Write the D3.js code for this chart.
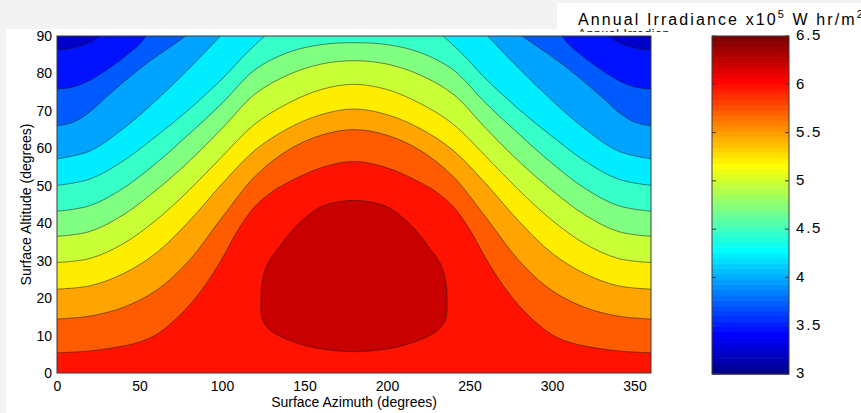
<!DOCTYPE html>
<html>
<head>
<meta charset="utf-8">
<script src="https://cdn.jsdelivr.net/npm/d3@7"></script>
<style>
  html, body { margin: 0; padding: 0; background: #f3f3f3; }
  svg { display: block; }
  text { font-family: "Liberation Sans", Arial, Helvetica, sans-serif; fill: #000; }
</style>
</head>
<body>
<svg id="chart" width="861" height="413"></svg>
<script>
// Iso-irradiance lines: [surface azimuth, surface altitude] pairs in degrees.
// A line that leaves through the top of the plot is split into two parts.
const iso_3_50 = [
  [[0, 86.3], [10, 86.8], [20, 88.3], [26, 90]],
  [[334, 90], [340, 88.3], [350, 86.8], [360, 86.3]]
];
const iso_3_75 = [
  [[0, 75.8], [10, 76.4], [20, 78.2], [30, 80.9], [40, 84.1], [50, 87.8], [54, 90]],
  [[306, 90], [310, 87.8], [320, 84.1], [330, 80.9], [340, 78.2], [350, 76.4], [360, 75.8]]
];
const iso_4_00 = [
  [[0, 66.0], [10, 67.0], [20, 69.8], [30, 73.8], [40, 77.6], [50, 81.2], [60, 84.5], [70, 87.5], [78, 90]],
  [[282, 90], [290, 87.5], [300, 84.5], [310, 81.2], [320, 77.6], [330, 73.8], [340, 69.8], [350, 67.0], [360, 66.0]]
];
const iso_4_25 = [
  [[0, 57.2], [20, 59.3], [40, 65.2], [60, 72.8], [80, 81.3], [99, 90]],
  [[261, 90], [280, 81.3], [300, 72.8], [320, 65.2], [340, 59.3], [360, 57.2]]
];
const iso_4_50 = [
  [[0, 50.1], [20, 51.8], [40, 56.6], [60, 63.2], [80, 70.4], [100, 78.5], [115, 85.5], [126, 90]],
  [[234, 90], [245, 85.5], [260, 78.5], [280, 70.4], [300, 63.2], [320, 56.6], [340, 51.8], [360, 50.1]]
];
const iso_4_75 = [
  [[0, 43.2], [20, 44.7], [40, 49.3], [60, 56.0], [80, 63.8], [100, 72.0], [120, 81.0], [140, 85.6], [160, 87.7], [180, 88.2],
   [200, 87.7], [220, 85.6], [240, 81.0], [260, 72.0], [280, 63.8], [300, 56.0], [320, 49.3], [340, 44.7], [360, 43.2]]
];
const iso_5_00 = [
  [[0, 36.5], [20, 37.8], [40, 42.2], [60, 48.8], [80, 56.5], [100, 65.3], [120, 74.5], [140, 79.6], [160, 82.5], [180, 83.4],
   [200, 82.5], [220, 79.6], [240, 74.5], [260, 65.3], [280, 56.5], [300, 48.8], [320, 42.2], [340, 37.8], [360, 36.5]]
];
const iso_5_25 = [
  [[0, 29.5], [20, 30.6], [40, 34.5], [60, 40.8], [80, 48.8], [100, 57.8], [120, 66.5], [140, 72.0], [160, 75.7], [180, 77.1],
   [200, 75.7], [220, 72.0], [240, 66.5], [260, 57.8], [280, 48.8], [300, 40.8], [320, 34.5], [340, 30.6], [360, 29.5]]
];
const iso_5_50 = [
  [[0, 22.4], [20, 23.3], [40, 26.5], [60, 32.0], [80, 40.5], [100, 50.5], [120, 59.5], [140, 65.3], [160, 69.0], [180, 70.5],
   [200, 69.0], [220, 65.3], [240, 59.5], [260, 50.5], [280, 40.5], [300, 32.0], [320, 26.5], [340, 23.3], [360, 22.4]]
];
const iso_5_75 = [
  [[0, 14.4], [20, 15.2], [40, 17.5], [60, 22.0], [80, 30.0], [100, 41.5], [120, 52.5], [140, 59.5], [160, 63.5], [180, 65.0],
   [200, 63.5], [220, 59.5], [240, 52.5], [260, 41.5], [280, 30.0], [300, 22.0], [320, 17.5], [340, 15.2], [360, 14.4]]
];
const iso_6_00 = [
  [[0, 5.4], [20, 5.9], [40, 7.2], [50, 8.3], [60, 10.2], [70, 13.6], [80, 18.0], [90, 23.6], [100, 30.5], [110, 38.4],
   [120, 44.5], [130, 48.3], [140, 50.9], [160, 54.8], [180, 56.5], [200, 54.8], [220, 50.9], [230, 48.3], [240, 44.5],
   [250, 38.4], [260, 30.5], [270, 23.6], [280, 18.0], [290, 13.6], [300, 10.2], [310, 8.3], [320, 7.2], [340, 5.9], [360, 5.4]]
];
// closed 6.25 line around the maximum
const iso_6_25 = [
  [123.6, 19.6], [124.6, 25.0], [128, 29.5], [135, 33.8], [143, 38.3], [154.5, 42.9], [163.5, 45.0], [180, 46.1],
  [196.5, 45.0], [205.5, 42.9], [217, 38.3], [225, 33.8], [232, 29.5], [235.4, 25.0], [236.4, 19.6], [235.5, 14.2],
  [231, 11.5], [223, 9.4], [211, 7.5], [196.5, 6.2], [180, 5.7], [163.5, 6.2], [149, 7.5], [137, 9.4], [129, 11.5], [124.5, 14.2]
];

const contourLevels = [3.5, 3.75, 4.0, 4.25, 4.5, 4.75, 5.0, 5.25, 5.5, 5.75, 6.0];
const openLines = [iso_3_50, iso_3_75, iso_4_00, iso_4_25, iso_4_50, iso_4_75, iso_5_00, iso_5_25, iso_5_50, iso_5_75, iso_6_00];
const peakLevel = 6.25;
const lowestLevel = 3.25;
const colorRange = [3, 6.5];

// Tick labels
const xTicks = [0, 50, 100, 150, 200, 250, 300, 350];
const yTicks = [0, 10, 20, 30, 40, 50, 60, 70, 80, 90];
const barTicks = [3, 3.5, 4, 4.5, 5, 5.5, 6, 6.5];

const W = 861, H = 413;
const plot = { left: 57, right: 651, top: 36, bottom: 373 };
const bar = { left: 712, right: 789, top: 36, bottom: 374 };

// jet colour map (continuous)
function jet(t) {
  const c = v => Math.round(255 * Math.max(0, Math.min(1, v)));
  return d3.rgb(c(1.5 - Math.abs(4 * t - 3)), c(1.5 - Math.abs(4 * t - 2)), c(1.5 - Math.abs(4 * t - 1))).formatHex();
}
// jet colour map with 64 entries
function jet64(k) {
  const n = 16;
  const u = j => (j < 1 || j > 47) ? 0 : (j <= n ? j / n : (j <= 31 ? 1 : (48 - j) / n));
  const row = k + 1;
  return d3.rgb(255 * u(row - 24), 255 * u(row - 8), 255 * u(row + 8)).formatHex();
}
const levelColor = v => jet((v - colorRange[0]) / (colorRange[1] - colorRange[0]));

const svg = d3.select("#chart");

// figure background
svg.append("rect").attr("width", W).attr("height", H).attr("fill", "#f3f3f3");
svg.append("rect").attr("x", 6).attr("y", 29).attr("width", W - 6).attr("height", H - 29).attr("fill", "#ffffff");
svg.append("rect").attr("x", 557).attr("y", 3).attr("width", W - 557).attr("height", 27).attr("fill", "#ffffff");

const x = d3.scaleLinear().domain([0, 360]).range([plot.left, plot.right]);
const y = d3.scaleLinear().domain([0, 90]).range([plot.bottom, plot.top]);

const lineGen = d3.line().x(d => x(d[0])).y(d => y(d[1])).curve(d3.curveCatmullRom.alpha(0.5));
const ringGen = d3.line().x(d => x(d[0])).y(d => y(d[1])).curve(d3.curveCatmullRomClosed.alpha(0.5));

// Region at or above a level: below its line(s), down to the floor of the plot
function regionPath(parts) {
  const floor = y(-3), ceil = y(93);
  let p = `M${x(-3)},${floor}L${x(-3)},${y(parts[0][0][1])}L${x(parts[0][0][0])},${y(parts[0][0][1])}`;
  parts.forEach((part, i) => {
    if (i > 0) {
      const prev = parts[i - 1][parts[i - 1].length - 1];
      p += `L${x(prev[0])},${ceil}L${x(part[0][0])},${ceil}`;
    }
    p += lineGen(part).replace(/^M/, "L");
  });
  const last = parts[parts.length - 1];
  const end = last[last.length - 1];
  p += `L${x(363)},${y(end[1])}L${x(363)},${floor}Z`;
  return p;
}

svg.append("clipPath").attr("id", "plotClip")
  .append("rect").attr("x", plot.left).attr("y", plot.top)
  .attr("width", plot.right - plot.left).attr("height", plot.bottom - plot.top);

const field = svg.append("g").attr("clip-path", "url(#plotClip)");
field.append("rect").attr("x", plot.left).attr("y", plot.top)
  .attr("width", plot.right - plot.left).attr("height", plot.bottom - plot.top)
  .attr("fill", levelColor(lowestLevel));

const bandData = contourLevels.map((level, i) => ({ level, parts: openLines[i] }));
field.selectAll("path.band").data(bandData).join("path")
  .attr("class", "band")
  .attr("d", d => regionPath(d.parts))
  .attr("fill", d => levelColor(d.level));
field.append("path").attr("d", ringGen(iso_6_25)).attr("fill", levelColor(peakLevel));

// iso-lines
const strokeStyle = sel => sel.attr("fill", "none").attr("stroke", "#1a1a1a")
  .attr("stroke-opacity", 0.75).attr("stroke-width", 0.7);
field.selectAll("path.iso").data(openLines.flat()).join("path")
  .attr("class", "iso").attr("d", lineGen).call(strokeStyle);
field.append("path").attr("d", ringGen(iso_6_25)).call(strokeStyle);

// plot frame
svg.append("rect").attr("x", plot.left).attr("y", plot.top)
  .attr("width", plot.right - plot.left).attr("height", plot.bottom - plot.top)
  .attr("fill", "none").attr("stroke", "#3a3a3a").attr("stroke-width", 1);

// axes
const xAxis = svg.append("g").attr("transform", `translate(0,${plot.bottom})`)
  .call(d3.axisBottom(x).tickValues(xTicks).tickSize(0).tickPadding(8));
const yAxis = svg.append("g").attr("transform", `translate(${plot.left},0)`)
  .call(d3.axisLeft(y).tickValues(yTicks).tickSize(0).tickPadding(5));
[xAxis, yAxis].forEach(a => {
  a.select(".domain").remove();
  a.selectAll("text").attr("font-size", 14).attr("font-family", null).attr("fill", "#000");
});

svg.append("text").attr("x", x(180)).attr("y", 406.5).attr("text-anchor", "middle")
  .attr("font-size", 14).text("Surface Azimuth (degrees)");
svg.append("text").attr("transform", `translate(31,${(plot.top + plot.bottom) / 2}) rotate(-90)`)
  .attr("text-anchor", "middle").attr("font-size", 14).text("Surface Altitude (degrees)");

// colour bar
const cy = d3.scaleLinear().domain(colorRange).range([bar.bottom, bar.top]);
const steps = d3.range(64);
const stepV = k => colorRange[0] + (colorRange[1] - colorRange[0]) * k / 64;
svg.selectAll("rect.cb").data(steps).join("rect")
  .attr("class", "cb")
  .attr("x", bar.left).attr("width", bar.right - bar.left)
  .attr("y", k => cy(stepV(k + 1)))
  .attr("height", k => cy(stepV(k)) - cy(stepV(k + 1)) + 0.6)
  .attr("fill", k => jet64(k));
svg.append("rect").attr("x", bar.left).attr("y", bar.top)
  .attr("width", bar.right - bar.left).attr("height", bar.bottom - bar.top)
  .attr("fill", "none").attr("stroke", "#3a3a3a").attr("stroke-width", 1);
const barTickG = svg.append("g");
barTickG.selectAll("line.l").data(barTicks).join("line")
  .attr("class", "l")
  .attr("x1", bar.left).attr("x2", bar.left + 4)
  .attr("y1", d => cy(d)).attr("y2", d => cy(d)).attr("stroke", "#3a3a3a");
barTickG.selectAll("line.r").data(barTicks).join("line")
  .attr("class", "r")
  .attr("x1", bar.right - 4).attr("x2", bar.right)
  .attr("y1", d => cy(d)).attr("y2", d => cy(d)).attr("stroke", "#3a3a3a");
barTickG.selectAll("text").data(barTicks).join("text")
  .attr("x", bar.right + 7).attr("y", d => cy(d) - 1).attr("dy", "0.35em")
  .attr("font-size", 15).attr("letter-spacing", 1.8).text(d => d);

// colour bar title
const title = svg.append("text").attr("x", 578).attr("y", 25).attr("font-size", 16).attr("letter-spacing", 2.1);
title.append("tspan").text("Annual Irradiance x10");
title.append("tspan").attr("dy", -7).attr("font-size", 11).text("5");
title.append("tspan").attr("dy", 7).text(" W hr/m");
title.append("tspan").attr("dy", -7).attr("font-size", 11).text("2");

// partly hidden duplicate label under the title
svg.append("clipPath").attr("id", "ghostClip")
  .append("rect").attr("x", 560).attr("y", 27.5).attr("width", 200).attr("height", 4.5);
svg.append("text").attr("clip-path", "url(#ghostClip)")
  .attr("x", 578).attr("y", 37.5).attr("font-size", 12).attr("letter-spacing", 0.7).attr("fill", "#222")
  .text("Annual Irradian");
</script>
</body>
</html>
